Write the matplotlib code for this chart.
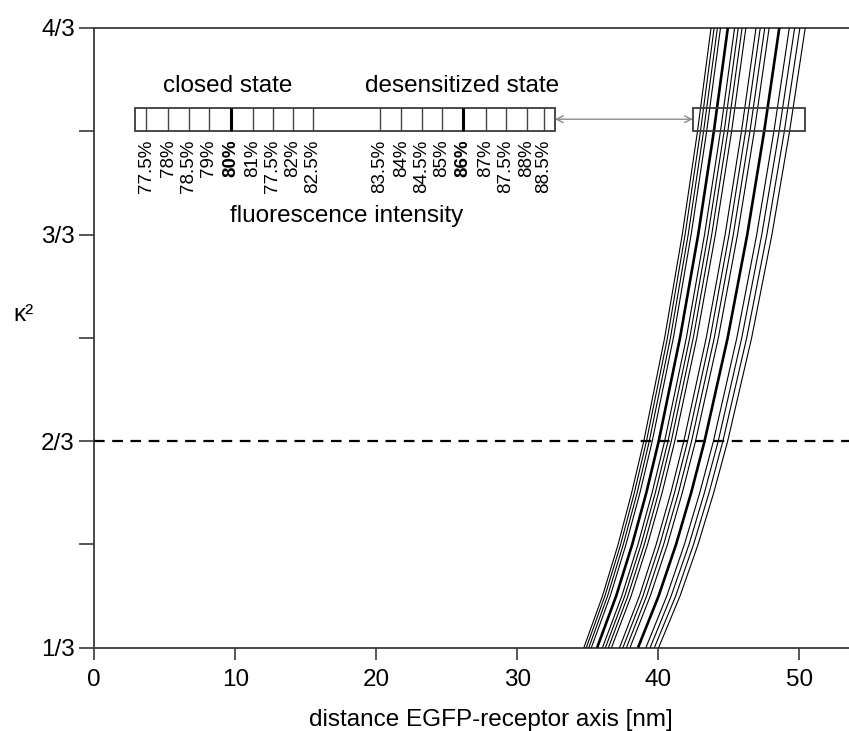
import matplotlib
matplotlib.use("Agg")
import matplotlib.pyplot as plt
from matplotlib.patches import Rectangle
from matplotlib.transforms import blended_transform_factory

plt.rcParams['font.family'] = ['Liberation Sans', 'DejaVu Sans']

# ---------------- data ----------------
kappa_levels = [1/3, 5/12, 1/2, 7/12, 2/3, 5/6, 1.0, 7/6, 4/3]

closed_labels = ["77.5%", "78%", "78.5%", "79%", "80%", "81%", "77.5%", "82%", "82.5%"]
desens_labels = ["83.5%", "84%", "84.5%", "85%", "86%", "87%", "87.5%", "88%", "88.5%"]
bold_labels = ["80%", "86%"]

# distance [nm] of each curve at the kappa^2 levels above
closed_curves = [
    [34.72, 36.04, 37.15, 38.11, 38.97, 40.45, 41.70, 42.78, 43.74],
    [34.89, 36.21, 37.33, 38.30, 39.16, 40.65, 41.90, 42.99, 43.96],
    [35.07, 36.40, 37.52, 38.50, 39.36, 40.86, 42.12, 43.21, 44.19],
    [35.25, 36.59, 37.71, 38.70, 39.57, 41.07, 42.33, 43.43, 44.41],
    [35.66, 37.01, 38.15, 39.15, 40.03, 41.54, 42.83, 43.94, 44.93],
    [36.04, 37.41, 38.56, 39.56, 40.45, 41.99, 43.28, 44.41, 45.41],
    [36.25, 37.62, 38.78, 39.79, 40.69, 42.23, 43.53, 44.67, 45.67],
    [36.46, 37.84, 39.01, 40.02, 40.92, 42.48, 43.79, 44.93, 45.94],
    [36.68, 38.07, 39.24, 40.27, 41.17, 42.73, 44.05, 45.20, 46.21],
]
desens_curves = [
    [37.25, 38.66, 39.85, 40.89, 41.81, 43.40, 44.74, 45.90, 46.93],
    [37.49, 38.91, 40.11, 41.15, 42.08, 43.68, 45.02, 46.19, 47.23],
    [37.74, 39.17, 40.38, 41.43, 42.36, 43.97, 45.32, 46.50, 47.55],
    [37.99, 39.43, 40.65, 41.70, 42.64, 44.26, 45.62, 46.81, 47.86],
    [38.56, 40.02, 41.26, 42.33, 43.28, 44.92, 46.31, 47.51, 48.58],
    [39.12, 40.60, 41.85, 42.94, 43.91, 45.57, 46.98, 48.20, 49.29],
    [39.42, 40.91, 42.18, 43.27, 44.25, 45.92, 47.34, 48.57, 49.67],
    [39.72, 41.23, 42.50, 43.60, 44.58, 46.27, 47.70, 48.94, 50.04],
    [40.02, 41.54, 42.82, 43.93, 44.92, 46.62, 48.06, 49.31, 50.42],
]

# positions of the marks inside the legend bar (x in nm units)
closed_marks = [3.67, 5.23, 6.71, 8.13, 9.69, 11.25, 12.67, 14.09, 15.51]
desens_marks = [20.26, 21.77, 23.24, 24.66, 26.15, 27.78, 29.20, 30.69, 31.89]

ref_kappa = 2/3
x_ticks = [0, 10, 20, 30, 40, 50]
y_major = [1/3, 2/3, 1.0, 4/3]
y_major_labels = ["1/3", "2/3", "3/3", "4/3"]
y_minor = [1/2, 5/6, 7/6]

# ---------------- figure ----------------
W, H = 849, 731
fig = plt.figure(figsize=(W / 100, H / 100), dpi=100)
x0, x1, ytop, ybot = 94.3, 849.0, 28.0, 647.7
ax = fig.add_axes([x0 / W, 1 - ybot / H, (x1 - x0) / W, (ybot - ytop) / H])
ax.set_xlim(0, (x1 - x0) / 14.1)
ax.set_ylim(1/3, 4/3)

spine_col = "#3a3a3a"
for s in ["left", "bottom", "top"]:
    ax.spines[s].set_color(spine_col)
    ax.spines[s].set_linewidth(1.3)
ax.spines["right"].set_visible(False)

FS = 17.5
ax.set_xticks(x_ticks)
ax.set_xticklabels([str(v) for v in x_ticks], fontsize=FS)
ax.set_yticks(y_major)
ax.set_yticklabels(y_major_labels, fontsize=FS)
ax.set_yticks(y_minor, minor=True)
ax.tick_params(axis="x", direction="out", length=8.3, width=1.2, color=spine_col, pad=7)
ax.tick_params(axis="y", which="both", direction="out", length=11, width=1.2, color=spine_col, pad=3)
ax.tick_params(axis="x", which="minor", bottom=False)

# curves
for labels, curves in ((closed_labels, closed_curves), (desens_labels, desens_curves)):
    for lab, xs in zip(labels, curves):
        bold = lab in bold_labels
        ax.plot(xs, kappa_levels, color="black", lw=1.9 if bold else 0.8,
                solid_capstyle="butt", solid_joinstyle="round", zorder=3)

# dashed reference line
ax.axhline(ref_kappa, color="black", lw=1.6, dashes=(4.8, 3.4), zorder=4)

# legend bar
box_bot, box_top = 1.1677, 1.2046
box_l, box_r = 2.89, 32.67
ax.add_patch(Rectangle((box_l, box_bot), box_r - box_l, box_top - box_bot,
                       facecolor="white", edgecolor=spine_col, lw=1.3, zorder=5))
for marks, labels in ((closed_marks, closed_labels), (desens_marks, desens_labels)):
    for xm, lab in zip(marks, labels):
        bold = lab in bold_labels
        ax.plot([xm, xm], [box_bot, box_top], color="black" if bold else "#444444",
                lw=2.2 if bold else 1.0, zorder=6, solid_capstyle="butt")
        ax.text(xm, 1.153, lab, rotation=90, ha="center", va="top", fontsize=13.5,
                fontweight="bold" if bold else "normal", zorder=6)

# zoom window on the curves
zb_l, zb_r = 42.45, 50.40
ax.add_patch(Rectangle((zb_l, box_bot), zb_r - zb_l, box_top - box_bot,
                       facecolor="none", edgecolor=spine_col, lw=1.3, zorder=5))
arrow_y = (box_bot + box_top) / 2
ax.annotate("", xy=(zb_l, arrow_y), xytext=(box_r, arrow_y),
            arrowprops=dict(arrowstyle="<->", color="#8a8a8a", lw=1.0,
                            shrinkA=0, shrinkB=0, mutation_scale=12), zorder=5)

ax.text(9.48, 1.230, "closed state", ha="center", va="baseline", fontsize=FS)
ax.text(26.11, 1.230, "desensitized state", ha="center", va="baseline", fontsize=FS)
ax.text(17.9, 1.0199, "fluorescence intensity", ha="center", va="baseline", fontsize=FS)

# axis labels
fig.text(491 / W, 1 - 726 / H, "distance EGFP-receptor axis [nm]",
         ha="center", va="baseline", fontsize=FS)
trans = blended_transform_factory(fig.transFigure, ax.transData)
ax.text(23.5 / W, 0.87, "κ²", transform=trans, ha="center", va="center", fontsize=FS)

fig.savefig("out.png", dpi=100)
